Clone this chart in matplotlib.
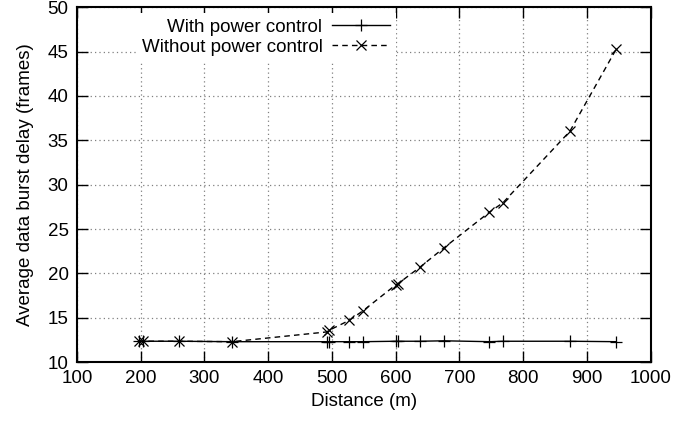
import matplotlib
matplotlib.use("Agg")
import matplotlib.pyplot as plt

# Distance (m) for each simulated point
distance = [197, 203, 260, 343, 492, 496, 527, 549, 600, 603, 638, 676, 747, 768, 873, 946]

# Average data burst delay (frames)
with_pc = [12.35, 12.35, 12.35, 12.3, 12.3, 12.3, 12.3, 12.3, 12.35, 12.35, 12.35, 12.4, 12.3, 12.35, 12.35, 12.3]
without_pc = [12.35, 12.35, 12.35, 12.3, 13.4, 13.6, 14.7, 15.8, 18.7, 18.8, 20.7, 22.9, 26.9, 27.95, 36.0, 45.3]

plt.rcParams["font.family"] = ["Liberation Sans", "DejaVu Sans"]
plt.rcParams["font.size"] = 13.5

fig = plt.figure(figsize=(6.99, 4.24), dpi=100)
ax = fig.add_axes([0.110, 0.146, 0.821, 0.837])

ax.plot(distance, with_pc, color="black", lw=1.0, marker="+", ms=8, mew=0.9,
        label="With power control")
ax.plot(distance, without_pc, color="black", lw=1.0, ls=(0, (4, 3)), marker="x", ms=7, mew=0.9,
        label="Without power control")

ax.set_xlim(100, 1000)
ax.set_ylim(10, 50)
ax.set_xticks(range(100, 1001, 100))
ax.set_yticks(range(10, 51, 5))
ax.tick_params(direction="in", length=8, width=1, top=True, right=True, pad=6)
ax.grid(True, color="gray", ls=(0, (1, 2.5)), lw=0.9)
for s in ax.spines.values():
    s.set_linewidth(1.5)

ax.set_xlabel("Distance (m)", labelpad=4)
ax.set_ylabel("Average data burst delay (frames)", labelpad=10)

leg = ax.legend(loc="upper right", bbox_to_anchor=(0.565, 1.0), markerfirst=False,
                frameon=True, fancybox=False, edgecolor="none", facecolor="white",
                framealpha=1.0, handlelength=3.1, handletextpad=0.5, labelspacing=0.15,
                borderpad=0.3, borderaxespad=0.3)
# right-align rows like gnuplot key
for col in leg._legend_handle_box.get_children():
    col.align = "right"

fig.savefig("out.png", dpi=100)
